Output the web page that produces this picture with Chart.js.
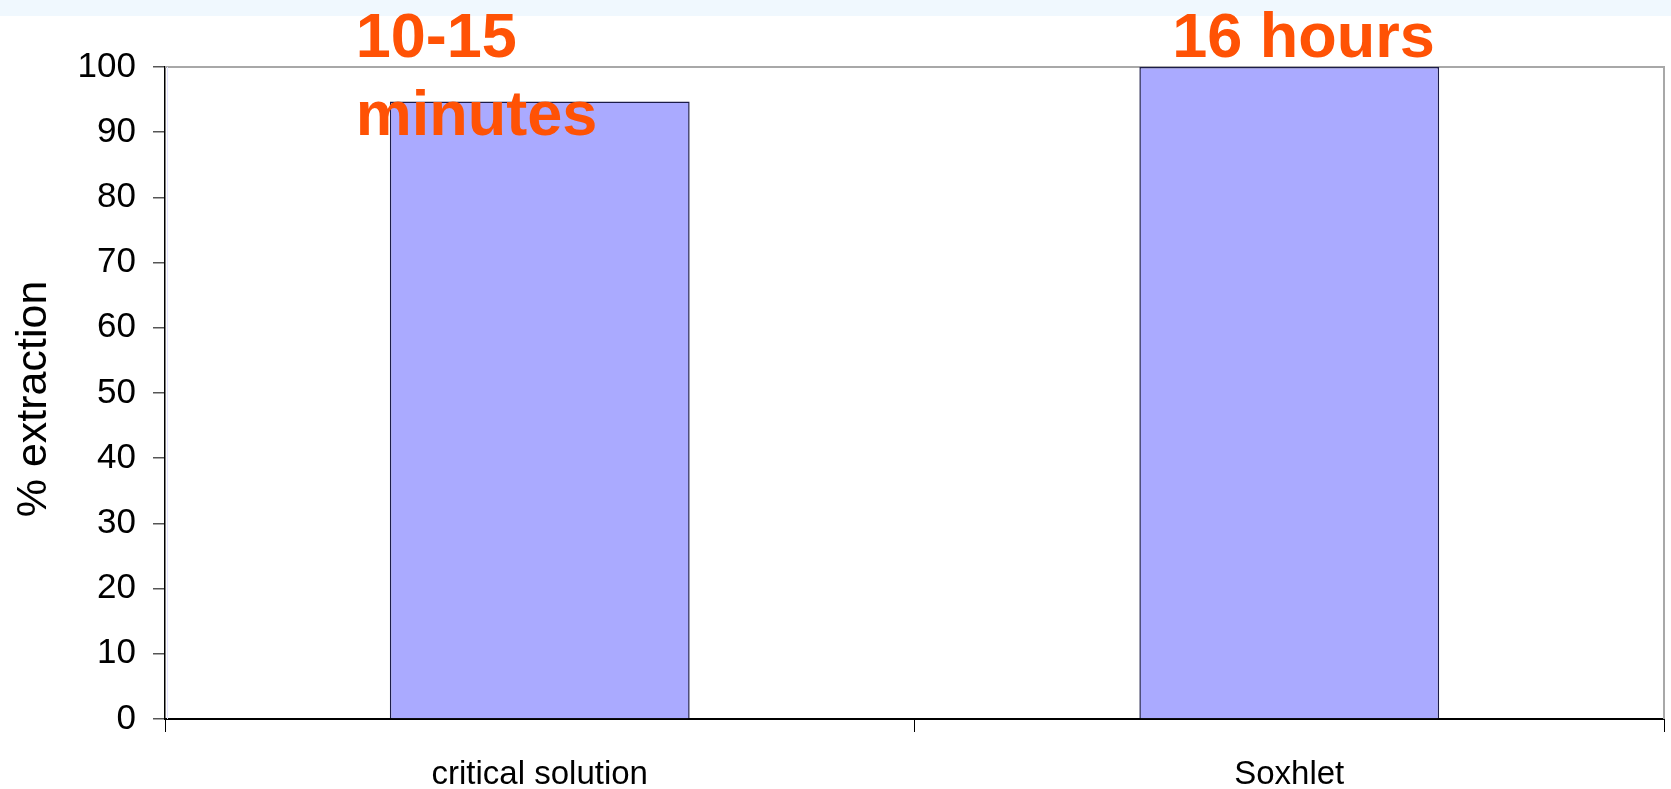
<!DOCTYPE html>
<html>
<head>
<meta charset="utf-8">
<title>% extraction</title>
<script src="https://cdn.jsdelivr.net/npm/chart.js@4/dist/chart.umd.min.js"></script>
<style>
  html, body { margin: 0; padding: 0; background: #ffffff; }
  #wrap { position: relative; width: 1671px; height: 789px; }
  #band { position: absolute; left: 0; top: 0; width: 1671px; height: 16px; background: #f0f8fe; }
  canvas { position: absolute; left: 0; top: 0; }
</style>
</head>
<body>
<div id="wrap">
  <div id="band"></div>
  <canvas id="chart" width="1671" height="789"></canvas>
</div>
<script>
// Extraction methods and the share of analyte recovered (%)
const categories = ['critical solution', 'Soxhlet'];
const extraction = [94.7, 100];
// Time each method takes, written above its bar
const durations = [['10-15', 'minutes'], ['16 hours']];
const yTicks = [0, 10, 20, 30, 40, 50, 60, 70, 80, 90, 100];
const yTitle = '% extraction';

const FONT = '"Liberation Sans", Arial, sans-serif';

// Gray frame on the top and right edges of the plot area
const frame = {
  id: 'frame',
  beforeDatasetsDraw(chart) {
    const { ctx, chartArea: a } = chart;
    ctx.save();
    ctx.strokeStyle = '#a8a8a8';
    ctx.lineWidth = 2;
    ctx.beginPath();
    ctx.moveTo(a.left, a.top);
    ctx.lineTo(a.right, a.top);
    ctx.lineTo(a.right, a.bottom);
    ctx.stroke();
    ctx.strokeStyle = '#e4e4ff';
    ctx.lineWidth = 1;
    ctx.beginPath();
    ctx.moveTo(a.left + 2.5, a.top);
    ctx.lineTo(a.left + 2.5, a.bottom);
    ctx.stroke();
    ctx.restore();
  }
};

// Duration notes drawn in bold orange above the bars
const notes = {
  id: 'notes',
  afterDraw(chart) {
    const { ctx } = chart;
    const meta = chart.getDatasetMeta(0);
    const shifts = [-184, -117];
    ctx.save();
    ctx.font = 'bold 63px ' + FONT;
    ctx.fillStyle = '#ff5205';
    ctx.textAlign = 'left';
    ctx.textBaseline = 'alphabetic';
    durations.forEach((lines, i) => {
      const x = meta.data[i].x + shifts[i];
      lines.forEach((t, j) => ctx.fillText(t, x, 57 + j * 78));
    });
    ctx.restore();
  }
};

new Chart(document.getElementById('chart'), {
  type: 'bar',
  data: {
    labels: categories,
    datasets: [{
      data: extraction,
      backgroundColor: '#aaaaff',
      borderColor: '#1c1c48',
      borderWidth: 1.5,
      categoryPercentage: 1,
      barPercentage: 0.4
    }]
  },
  options: {
    responsive: false,
    animation: false,
    devicePixelRatio: 1,
    layout: { padding: { left: 0, top: 67, right: 7, bottom: 0 } },
    plugins: { legend: { display: false }, tooltip: { enabled: false } },
    scales: {
      x: {
        afterFit(s) { s.height = 70; },
        grid: { display: true, drawOnChartArea: false, drawTicks: true, tickLength: 13, color: '#000000', lineWidth: 1 },
        border: { display: true, color: '#000000', width: 2 },
        ticks: { color: '#000000', font: { family: FONT, size: 33 }, padding: 23, maxRotation: 0 }
      },
      y: {
        min: 0,
        max: 100,
        afterFit(s) { s.width = 165; },
        afterBuildTicks(s) { s.ticks = yTicks.map(v => ({ value: v })); },
        grid: { display: true, drawOnChartArea: false, drawTicks: true, tickLength: 12, color: '#555555', lineWidth: 1.5 },
        border: { display: true, color: '#000000', width: 1.5 },
        ticks: { color: '#000000', font: { family: FONT, size: 35 }, padding: 17 },
        title: {
          display: true,
          text: yTitle + ' ',
          color: '#000000',
          font: { family: FONT, size: 43 },
          padding: { top: 8, bottom: 0 }
        }
      }
    }
  },
  plugins: [frame, notes]
});
</script>
</body>
</html>
